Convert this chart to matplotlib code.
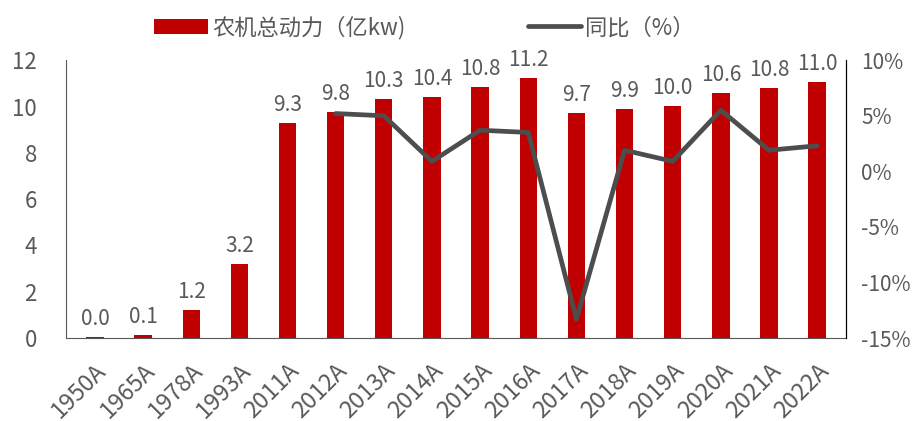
import matplotlib.pyplot as plt
import numpy as np
from matplotlib.ticker import FuncFormatter

plt.rcParams['font.family'] = ['Noto Sans CJK SC', 'DejaVu Sans']

years = ['1950A', '1965A', '1978A', '1993A', '2011A', '2012A', '2013A', '2014A',
         '2015A', '2016A', '2017A', '2018A', '2019A', '2020A', '2021A', '2022A']
power = [0.0, 0.1, 1.2, 3.2, 9.3, 9.8, 10.3, 10.4, 10.8, 11.2, 9.7, 9.9, 10.0, 10.6, 10.8, 11.0]
# bar heights (labels are rounded)
power_h = [0.04, 0.13, 1.23, 3.22, 9.3, 9.78, 10.33, 10.43, 10.83, 11.23, 9.73, 9.9, 10.03, 10.58, 10.8, 11.06]
yoy = [5.2, 5.0, 0.9, 3.7, 3.5, -13.3, 1.9, 0.9, 5.5, 1.9, 2.3]

red = '#c00000'
gray = '#595959'

fig = plt.figure(figsize=(9.17, 4.21), dpi=100)
ax = fig.add_axes([0.072, 0.197, 0.8506, 0.66])
ax2 = ax.twinx()

x = np.arange(len(years))
bars = ax.bar(x, power_h, width=0.36, color=red, label='农机总动力（亿kw)', zorder=2)
for xi, h, v in zip(x, power_h, power):
    ax.text(xi, h + 0.3, f'{v:.1f}', ha='center', va='bottom', fontsize=15, color=gray)

xl = x[5:]
line, = ax2.plot(xl, yoy, color='#4d4d4d', lw=3.4, solid_capstyle='round',
                 solid_joinstyle='round', label='同比（%）', zorder=3)

ax.set_xlim(-0.6, len(years) - 0.4)
ax.set_ylim(0, 12)
ax.set_yticks(range(0, 13, 2))
ax2.set_ylim(-15, 10)
ax2.set_yticks(range(-15, 11, 5))
ax2.yaxis.set_major_formatter(FuncFormatter(lambda v, p: f'{v:.0f}%'))

ax.set_xticks(x)
ax.set_xticklabels(years, rotation=45, ha='right', rotation_mode='anchor')

for a in (ax, ax2):
    a.spines['top'].set_visible(False)
    a.tick_params(length=0, labelsize=16, colors=gray)
ax.tick_params(axis='y', pad=21)
ax2.tick_params(axis='y', pad=11, labelsize=15)
ax.tick_params(axis='x', pad=15, labelsize=17)
ax.spines['left'].set_color(gray)
ax.spines['bottom'].set_color(gray)
ax2.spines['left'].set_visible(False)
ax2.spines['bottom'].set_visible(False)
ax2.spines['right'].set_color('black')

fig.legend(handles=[bars, line], loc='center', bbox_to_anchor=(0.463, 0.935), ncol=2,
           frameon=False, fontsize=16, labelcolor=gray, handlelength=2.4,
           handletextpad=0.2, columnspacing=5.5)

fig.savefig('out.png', dpi=100)
